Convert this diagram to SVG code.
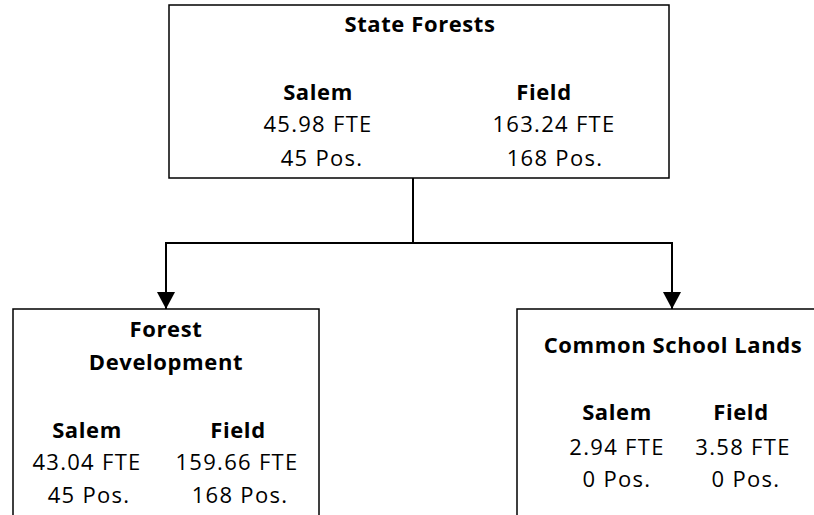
<svg xmlns="http://www.w3.org/2000/svg" width="814" height="515" viewBox="0 0 814 515">
  <style>
    .box { fill: #ffffff; stroke: #000000; stroke-width: 1.5; }
    .conn { fill: none; stroke: #000000; stroke-width: 2; }
    text { font-family: "Open Sans", "Noto Sans", "Liberation Sans", sans-serif; font-size: 22px; fill: #000000; text-anchor: middle; letter-spacing: 1.3px; }
    .b { font-weight: bold; letter-spacing: 0.6px; }
  </style>
  <defs>
    <marker id="arrow" markerUnits="userSpaceOnUse" markerWidth="20" markerHeight="18" refX="17" refY="9" orient="auto">
      <path d="M0,0 L17,9 L0,18 Z" fill="#000000"/>
    </marker>
  </defs>
  <rect width="814" height="515" fill="#ffffff"/>

  <g id="connectors">
    <path class="conn" d="M413,178 V243 H166 V309" marker-end="url(#arrow)"/>
    <path class="conn" d="M413,243 H672 V309" marker-end="url(#arrow)"/>
  </g>

  <g id="state-forests">
    <rect class="box" x="169" y="5" width="500" height="173"/>
    <text class="b" x="420" y="32">State Forests</text>
    <text class="b" x="318" y="100">Salem</text>
    <text class="b" x="544" y="100">Field</text>
    <text x="318" y="132">45.98 FTE</text>
    <text x="554" y="132">163.24 FTE</text>
    <text x="322" y="166">45 Pos.</text>
    <text x="555" y="166">168 Pos.</text>
  </g>

  <g id="forest-development">
    <rect class="box" x="13" y="309" width="306" height="230"/>
    <text class="b" x="166" y="337">Forest</text>
    <text class="b" x="166" y="370">Development</text>
    <text class="b" x="87" y="438">Salem</text>
    <text class="b" x="238" y="438">Field</text>
    <text x="87" y="470">43.04 FTE</text>
    <text x="237" y="470">159.66 FTE</text>
    <text x="89" y="503">45 Pos.</text>
    <text x="240" y="503">168 Pos.</text>
  </g>

  <g id="common-school-lands">
    <rect class="box" x="517" y="309" width="320" height="230"/>
    <text class="b" x="673" y="353">Common School Lands</text>
    <text class="b" x="617" y="420">Salem</text>
    <text class="b" x="741" y="420">Field</text>
    <text x="617" y="455">2.94 FTE</text>
    <text x="743" y="455">3.58 FTE</text>
    <text x="617" y="487">0 Pos.</text>
    <text x="746" y="487">0 Pos.</text>
  </g>
</svg>
